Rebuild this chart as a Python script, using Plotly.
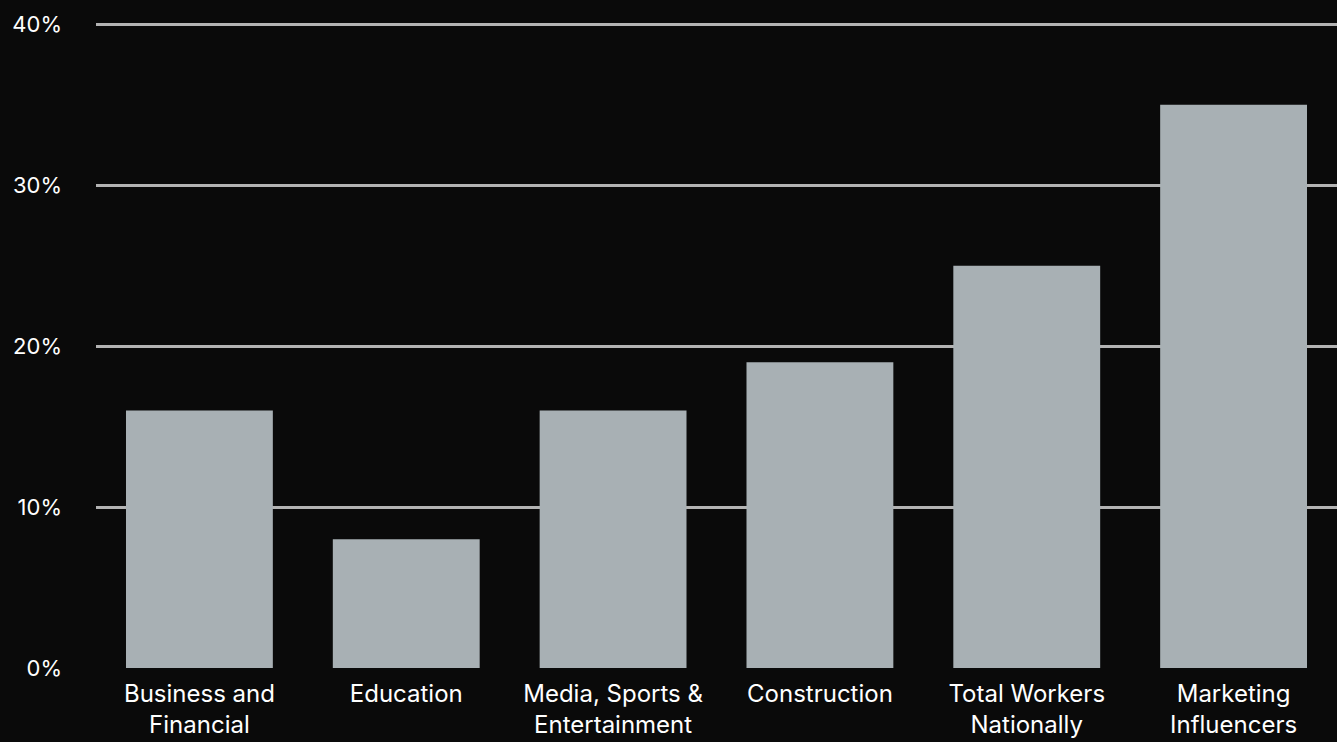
import plotly.graph_objects as go

categories = ["Business and<br>Financial", "Education", "Media, Sports &<br>Entertainment",
              "Construction", "Total Workers<br>Nationally", "Marketing<br>Influencers"]
values = [16, 8, 16, 19, 25, 35]
y_ticks = [0, 10, 20, 30, 40]
y_tick_labels = ["0%", "10%", "20%", "30%", "40%"]

fig = go.Figure(go.Bar(
    x=categories, y=values,
    marker=dict(color="#a8b0b4", line=dict(width=0)),
    hoverinfo="skip",
))

fig.update_layout(
    width=1337, height=742,
    margin=dict(l=96, r=0, t=23, b=74),
    paper_bgcolor="#0a0a0a", plot_bgcolor="#0a0a0a",
    bargap=0.29,
    showlegend=False,
    font=dict(family="Inter, Lato, sans-serif", color="white", size=22),
)
fig.update_xaxes(showgrid=False, showline=False, zeroline=False, ticks="",
                 ticklabelstandoff=9,
                 tickfont=dict(size=24, color="white"))
fig.update_yaxes(range=[0, 40.08], tickvals=y_ticks, ticktext=y_tick_labels,
                 showgrid=True, gridcolor="#b3b3b3", gridwidth=2.5,
                 zeroline=False, showline=False, ticks="",
                 ticklabelstandoff=33,
                 tickfont=dict(size=22, color="white"))

fig.write_html("out.html", config={"displayModeBar": False},
               post_script="document.body.style.margin='0';document.body.style.overflow='hidden';")
